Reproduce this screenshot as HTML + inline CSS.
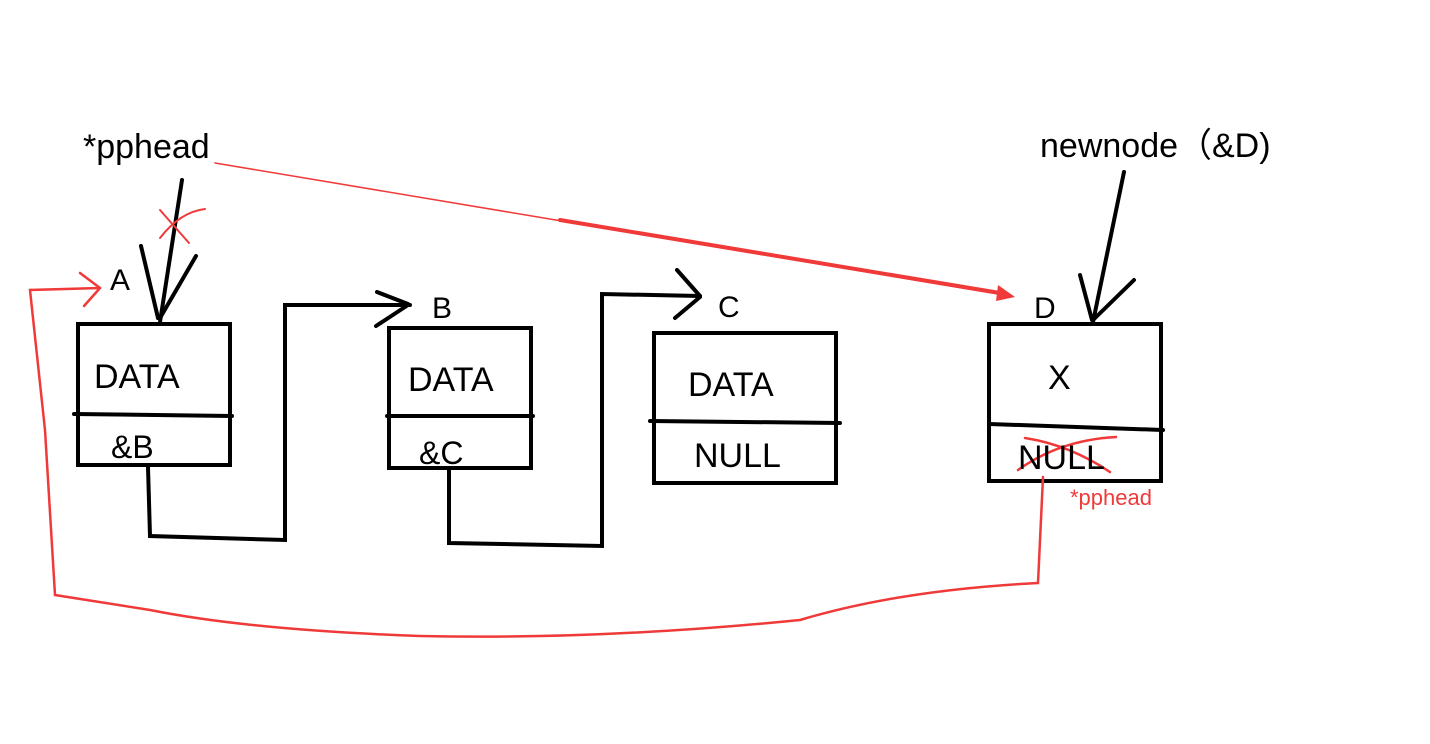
<!DOCTYPE html>
<html><head><meta charset="utf-8"><style>
html,body{margin:0;padding:0;background:#fff;width:1430px;height:744px;overflow:hidden}
text{font-family:"Liberation Sans","Noto Sans CJK SC",sans-serif}
</style></head><body>
<svg width="1430" height="744" viewBox="0 0 1430 744" xmlns="http://www.w3.org/2000/svg">
<g fill="none" stroke="#000" stroke-width="4" stroke-linecap="round">
<!-- Node A -->
<rect x="78" y="324" width="152" height="141"/>
<line x1="74" y1="414" x2="232" y2="416"/>
<!-- Node B -->
<rect x="389" y="328" width="142" height="140"/>
<line x1="387" y1="416" x2="533" y2="416"/>
<!-- Node C -->
<rect x="654" y="333" width="182" height="150"/>
<line x1="650" y1="421" x2="840" y2="423"/>
<!-- Node D -->
<rect x="989" y="324" width="172" height="157"/>
<line x1="989" y1="424" x2="1163" y2="430"/>
<!-- pphead arrow to A -->
<line x1="182" y1="180" x2="160" y2="322"/>
<line x1="141" y1="246" x2="158" y2="318"/>
<line x1="196" y1="256" x2="160" y2="318"/>
<!-- A -> B connector -->
<polyline points="148,467 150,536 285,540 285,305 410,305"/>
<line x1="377" y1="292" x2="408" y2="304"/>
<line x1="376" y1="326" x2="408" y2="305"/>
<!-- B -> C connector -->
<polyline points="449,470 449,543 602,546 602,294 700,296"/>
<line x1="677" y1="270" x2="700" y2="296"/>
<line x1="675" y1="318" x2="700" y2="297"/>
<!-- newnode arrow -->
<line x1="1124" y1="172" x2="1093" y2="322"/>
<line x1="1080" y1="275" x2="1092" y2="320"/>
<line x1="1134" y1="280" x2="1093" y2="320"/>
</g>
<g fill="none" stroke="#f03a3a" stroke-linecap="round">
<!-- red X on pphead arrow -->
<line x1="160" y1="210" x2="189" y2="243" stroke-width="2"/>
<path d="M160 238 Q180 212 205 209" stroke-width="2"/>
<!-- pphead to D -->
<path d="M215 163 L1010 296" stroke-width="1.5"/>
<path d="M560 220 L1000 293" stroke-width="4"/>
<polygon points="1015,297 998,285 996,301" fill="#f03a3a" stroke="none"/>
<!-- return path D -> A -->
<path d="M1043 477 L1038 583 Q900 590 800 620 Q600 640 420 636 Q250 630 150 610 L55 595 L45 430 L30 290 L100 288" stroke-width="2.5"/>
<line x1="80" y1="273" x2="100" y2="288" stroke-width="2.5"/>
<line x1="84" y1="306" x2="100" y2="288" stroke-width="2.5"/>
<!-- NULL crossed -->
<path d="M1018 470 Q1060 440 1116 437" stroke-width="2.5"/>
<path d="M1025 438 Q1070 445 1110 472" stroke-width="2.5"/>
</g>
<g fill="#000">
<text x="83" y="158" font-size="34">*pphead</text>
<text x="1040" y="157" font-size="34">newnode（&amp;D)</text>
<text x="110" y="290" font-size="30">A</text>
<text x="432" y="318" font-size="30">B</text>
<text x="718" y="317" font-size="30">C</text>
<text x="1034" y="318" font-size="30">D</text>
<text x="94" y="388" font-size="34">DATA</text>
<text x="111" y="458" font-size="32">&amp;B</text>
<text x="408" y="391" font-size="34">DATA</text>
<text x="419" y="464" font-size="32">&amp;C</text>
<text x="688" y="396" font-size="34">DATA</text>
<text x="694" y="467" font-size="34">NULL</text>
<text x="1048" y="389" font-size="34">X</text>
<text x="1018" y="469" font-size="34">NULL</text>
</g>
<text x="1070" y="505" font-size="22" fill="#f03a3a">*pphead</text>
</svg>
</body></html>
